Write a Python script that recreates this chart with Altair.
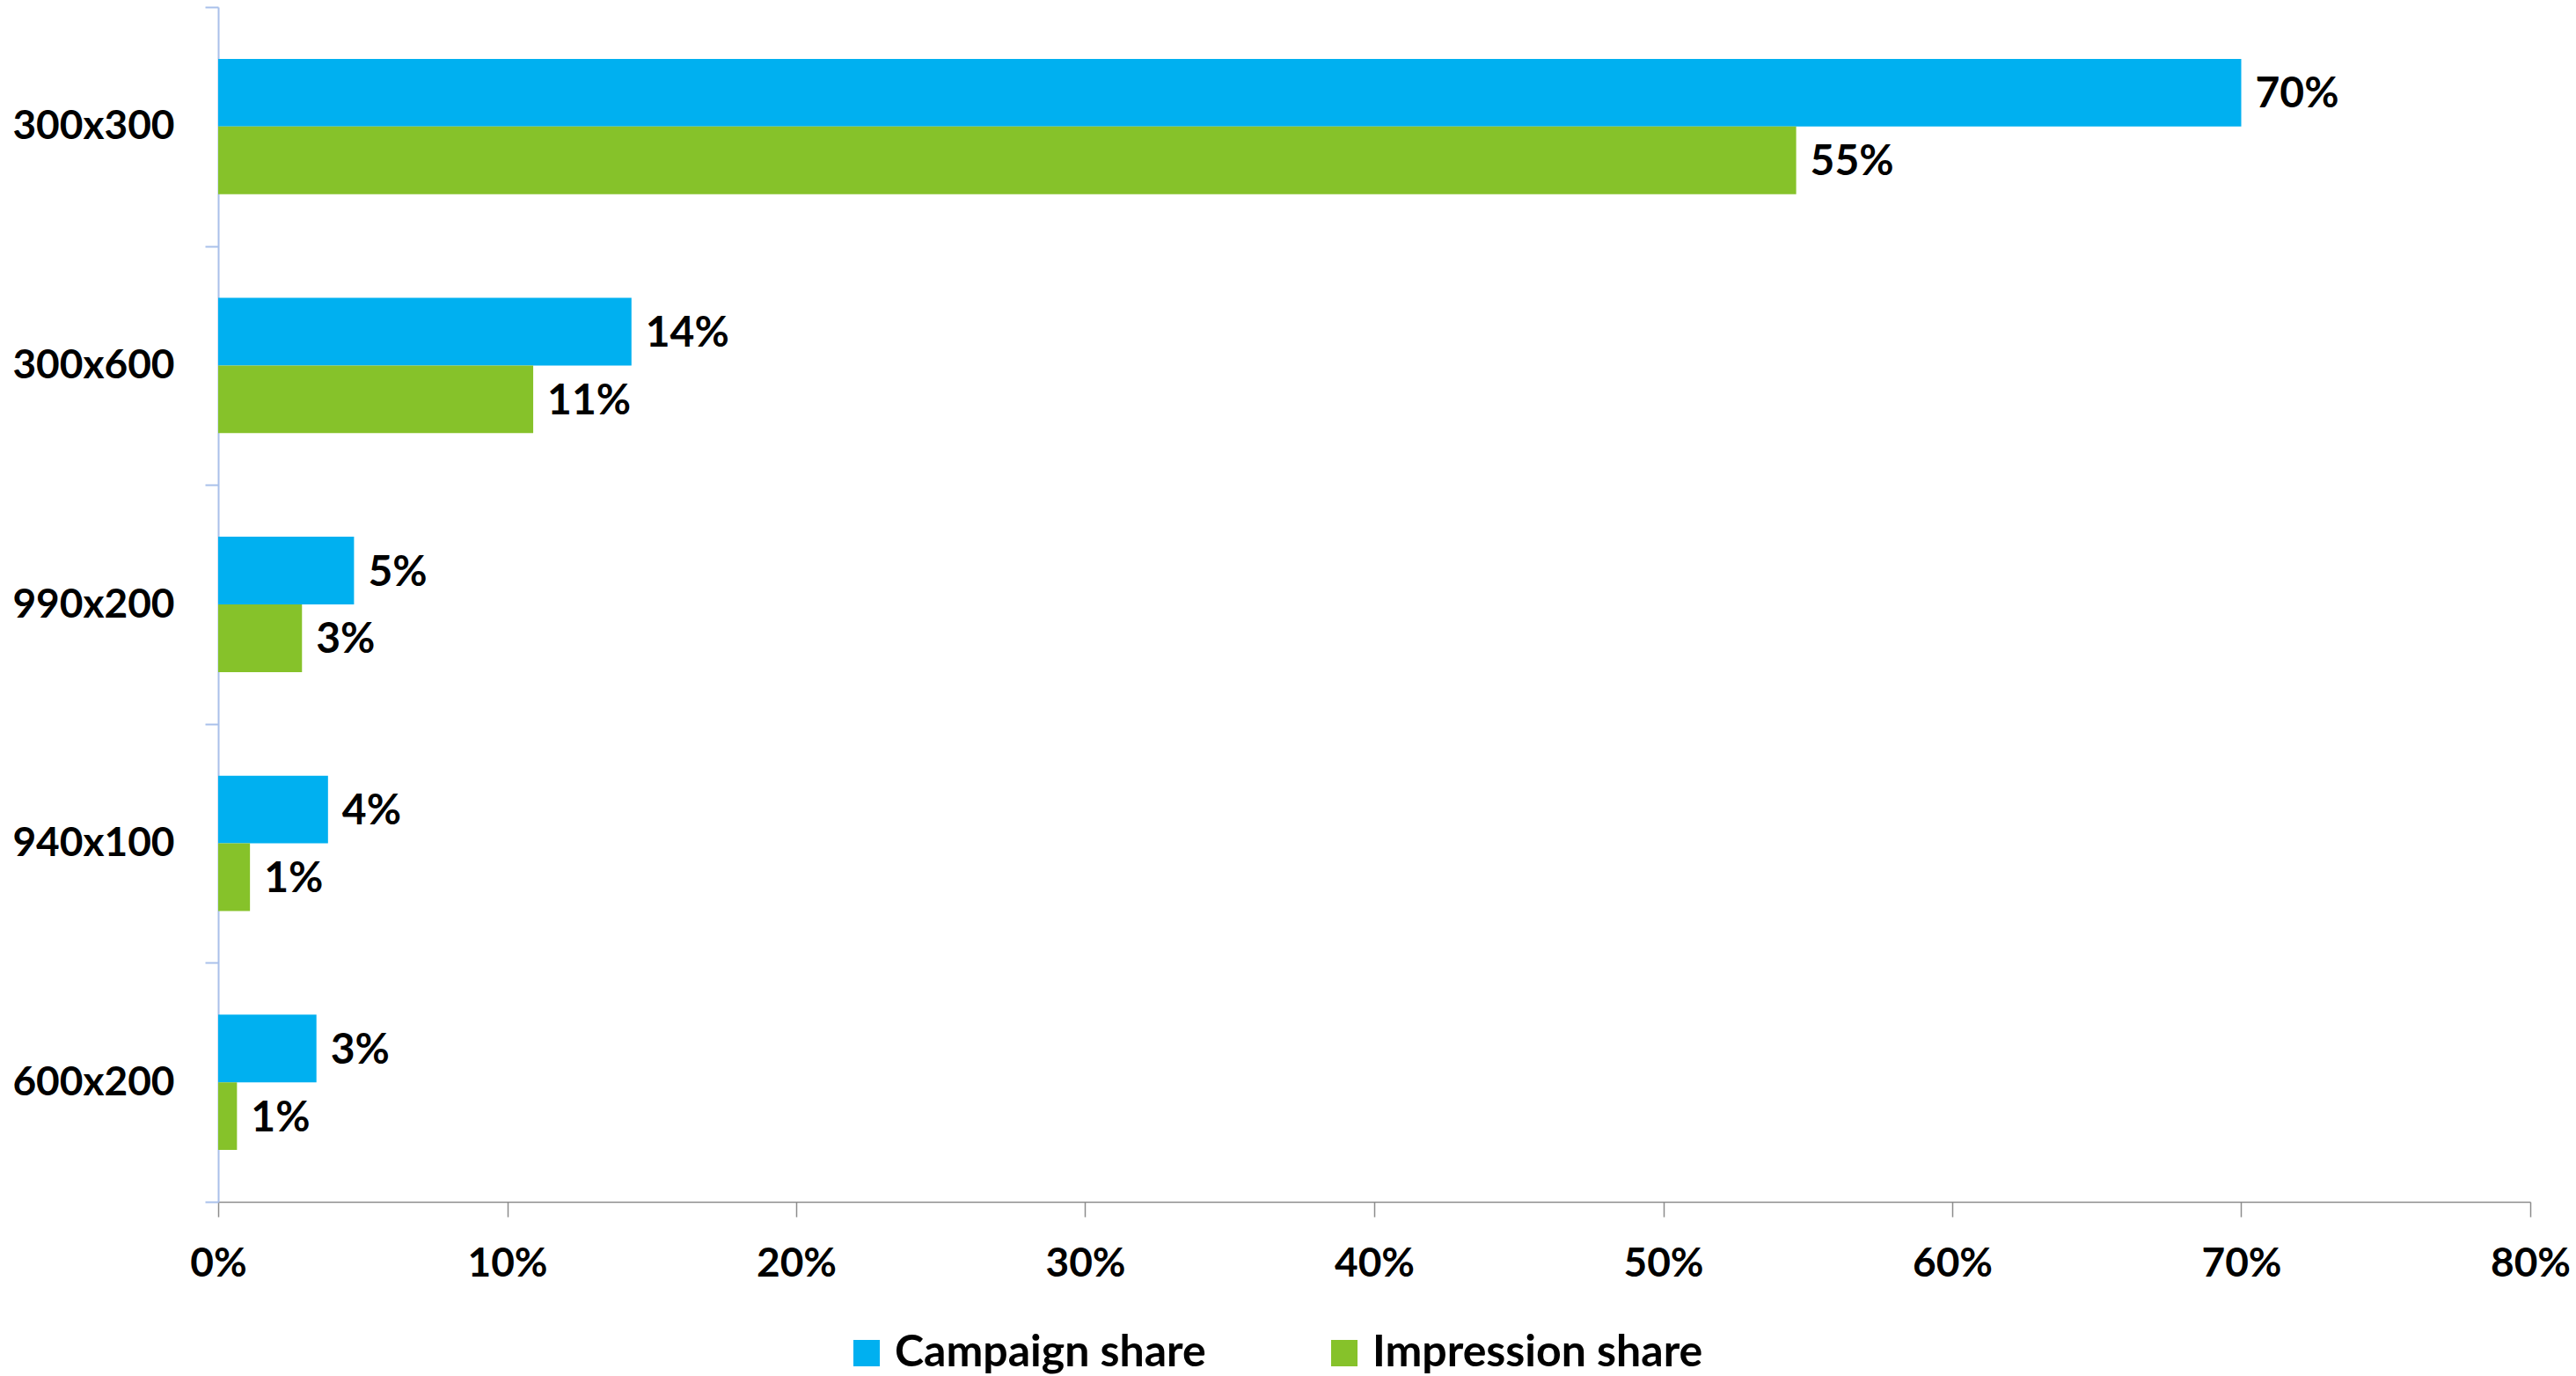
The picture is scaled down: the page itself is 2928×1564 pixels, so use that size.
import altair as alt
import pandas as pd

# Banner sizes and the share of campaigns / impressions each one takes
sizes = ["300x300", "300x600", "990x200", "940x100", "600x200"]
campaign_share = [0.700, 0.143, 0.047, 0.038, 0.034]
impression_share = [0.546, 0.109, 0.029, 0.011, 0.0065]
series = ["Campaign share", "Impression share"]
colors = ["#00B0F0", "#86C22A"]
x_ticks = [0, 0.1, 0.2, 0.3, 0.4, 0.5, 0.6, 0.7, 0.8]

rows = []
for i, s in enumerate(sizes):
    rows.append({"size": s, "series": series[0], "share": campaign_share[i]})
    rows.append({"size": s, "series": series[1], "share": impression_share[i]})
df = pd.DataFrame(rows)

FONT = "Lato"
FS = 46

y_enc = alt.Y(
    "size:N",
    sort=sizes,
    scale=alt.Scale(paddingInner=0, paddingOuter=0),
    axis=alt.Axis(
        title=None,
        domainColor="#A9C0EA",
        domainWidth=2,
        tickColor="#A9C0EA",
        tickWidth=2,
        tickSize=15,
        tickBand="extent",
        labelFont=FONT,
        labelFontSize=FS,
        labelFontWeight="bold",
        labelColor="#000000",
        labelPadding=35,
        labelLimit=0,
        grid=False,
    ),
)
y_off = alt.YOffset(
    "series:N",
    sort=series,
    scale=alt.Scale(paddingInner=0, paddingOuter=0.766),
)
x_enc = alt.X(
    "share:Q",
    scale=alt.Scale(domain=[0, 0.8], nice=False, zero=True),
    axis=alt.Axis(
        title=None,
        values=x_ticks,
        format=".0%",
        domainColor="#8C8C8C",
        domainWidth=1.5,
        tickColor="#8C8C8C",
        tickWidth=1.5,
        tickSize=17,
        labelFont=FONT,
        labelFontSize=FS,
        labelFontWeight="bold",
        labelColor="#000000",
        labelPadding=31,
        labelFlush=False,
        labelLimit=0,
        grid=False,
    ),
)

bars = alt.Chart(df).mark_bar().encode(
    x=x_enc,
    y=y_enc,
    yOffset=y_off,
    color=alt.Color(
        "series:N",
        sort=series,
        scale=alt.Scale(domain=series, range=colors),
        legend=alt.Legend(
            title=None,
            orient="none",
            direction="horizontal",
            legendX=712,
            legendY=1505,
            symbolType="square",
            symbolSize=900,
            symbolStrokeWidth=0,
            labelFont=FONT,
            labelFontSize=50,
            labelFontWeight="bold",
            labelColor="#000000",
            labelOffset=7,
            labelLimit=0,
            columnPadding=132,
            padding=0,
        ),
    ),
)

labels = alt.Chart(df).mark_text(
    align="left",
    baseline="middle",
    dx=16,
    dy=3,
    font=FONT,
    fontSize=48,
    fontWeight="bold",
    color="#000000",
).encode(
    x=alt.X("share:Q"),
    y=alt.Y("size:N", sort=sizes),
    yOffset=alt.YOffset("series:N", sort=series),
    text=alt.Text("share:Q", format=".0%"),
)

chart = (
    alt.layer(bars, labels)
    .properties(
        width=2628,
        height=1358,
        autosize=alt.AutoSizeParams(type="none"),
        padding={"left": 248, "top": 8, "right": 52, "bottom": 198},
        background="#FFFFFF",
    )
    .configure_view(stroke=None)
)

chart.save("out.html", embed_options={"renderer": "svg", "actions": False})
